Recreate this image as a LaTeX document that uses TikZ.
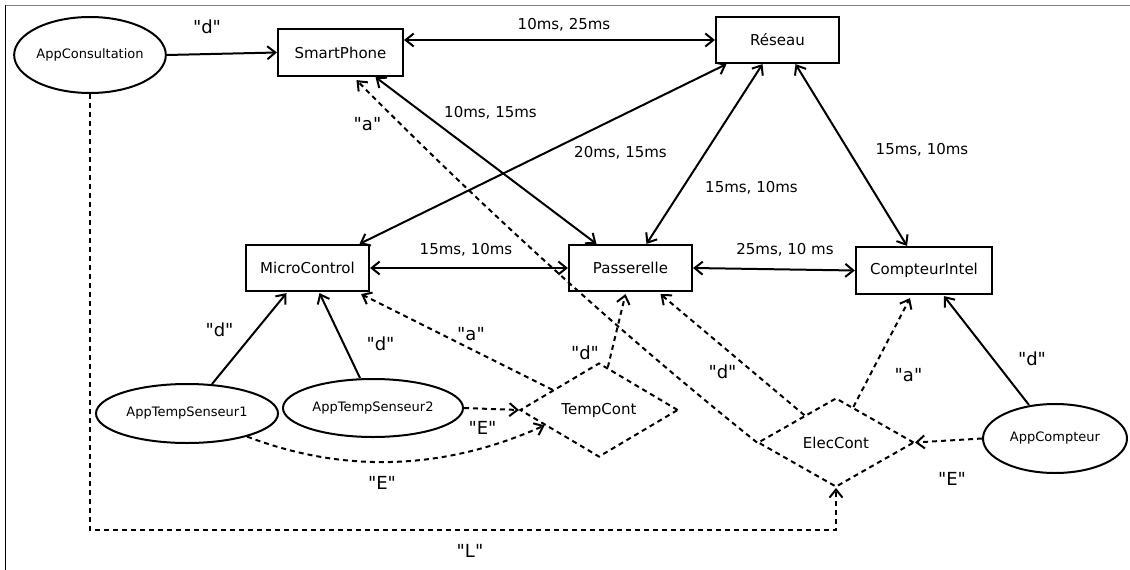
\documentclass[tikz,border=0pt]{standalone}
\usepackage{fontspec}
\setmainfont{DejaVu Sans}[Ligatures=TeXOff]
\usetikzlibrary{shapes.geometric,arrows.meta,calc}
\tikzset{
  boxnode/.style={draw, line width=2.2pt, inner sep=0pt, font=\fontsize{15}{18}\selectfont},
  appnode/.style={draw, ellipse, line width=2pt, inner sep=0pt, font=\fontsize{13}{16}\selectfont},
  ctrlnode/.style={draw, diamond, line width=2pt, dash pattern=on 5pt off 4pt, inner sep=0pt, font=\fontsize{15}{18}\selectfont},
  tip/.tip={Straight Barb[length=8pt,width=13pt]},
  link/.style={line width=2pt, tip-tip},
  flow/.style={line width=2pt, -tip},
  dflow/.style={line width=2pt, dash pattern=on 5pt off 4pt, -tip},
  lbl/.style={anchor=base, inner sep=0pt, font=\fontsize{15}{18}\selectfont},
  qlbl/.style={anchor=base, inner sep=0pt, font=\fontsize{18}{21}\selectfont},
}
\begin{document}
\begin{tikzpicture}[x=1pt,y=-1pt]
\useasboundingbox (0,0) rectangle (1130,570);
% frame
\draw[gray, line width=1.5pt] (5,5.5) -- (1130,5.5);
\draw[line width=1pt] (5.5,5) -- (5.5,570);

% nodes
\node[appnode, minimum width=150pt, minimum height=76pt] (appc) at (90,55) {AppConsultation};
\node[boxnode, minimum width=125pt, minimum height=47pt] (sp) at (340.5,52.5) {SmartPhone};
\node[boxnode, minimum width=123pt, minimum height=46pt] (res) at (777.5,40) {Réseau};
\node[boxnode, minimum width=136pt, minimum height=47pt] (ci) at (924,270.5) {CompteurIntel};
\node[boxnode, minimum width=123pt, minimum height=46pt] (mc) at (307.5,268) {MicroControl};
\node[boxnode, minimum width=123pt, minimum height=46pt] (pa) at (630.5,268) {Passerelle};
\node[appnode, minimum width=182pt, minimum height=59pt] (ats1) at (187,413.5) {AppTempSenseur1};
\node[appnode, minimum width=180pt, minimum height=58pt] (ats2) at (373,408) {AppTempSenseur2};
\node[ctrlnode, minimum width=158pt, minimum height=94pt] (tc) at (599,410) {TempCont};
\node[ctrlnode, minimum width=156pt, minimum height=89pt] (ec) at (836,442.5) {ElecCont};
\node[appnode, minimum width=144pt, minimum height=69pt] (acpt) at (1055,438.5) {AppCompteur};

% solid links
\draw[flow] (appc.east) -- (sp.west);
\draw[link] (sp.east |- res.west) -- (res.west);
\draw[link] ($(sp.south)+(35,0)$) -- ($(pa.north)+(-34,0)$);
\draw[link] ($(res.south)+(-51,0)$) -- ($(mc.north)+(52,0)$);
\draw[link] ($(res.south)+(-15,0)$) -- ($(pa.north)+(16,0)$);
\draw[link] ($(res.south)+(18,0)$) -- ($(ci.north)+(-17,0)$);
\draw[link] (mc.east) -- (pa.west);
\draw[link] (pa.east) -- (ci.west);
\draw[flow] ($(ats1.north)+(25,1)$) -- ($(mc.south)+(-21,1)$);
\draw[flow] ($(ats2.north)+(-13,0)$) -- ($(mc.south)+(12,1)$);
\draw[flow] ($(acpt.north)+(-26,2)$) -- ($(ci.south)+(20,1)$);

% dashed flows
\draw[dflow] ($(tc.west)!0.42!(tc.north)$) -- ($(mc.south east)+(-9,2)$);
\draw[dflow] ($(tc.north)!0.11!(tc.east)$) -- ($(pa.south)+(-5,2)$);
\draw[dflow] (ats2.east) -- (tc.west);
\draw[dflow] (ats1.-21) .. controls (345,474) and (445,470) .. ($(tc.west)!0.32!(tc.south)$);
\draw[dflow] (ec.west) .. controls (624.7,336.7) and (490.8,215.7) .. ($(sp.south)+(16,3)$);
\draw[dflow] ($(ec.west)!0.6!(ec.north)$) -- ($(pa.south)+(30,2)$);
\draw[dflow] ($(ec.north)!0.22!(ec.east)$) -- ($(ci.south)+(-14,3)$);
\draw[dflow] (acpt.west) -- (ec.east);
\coordinate (lturn) at (90,530);
\draw[dflow] (appc.south) -- (lturn) -| (ec.south);

% labels
\node[qlbl] (l1) at (207,33) {"d"};
\node[lbl] (l2) at (564,29) {10ms, 25ms};
\node[lbl] (l3) at (490.5,117) {10ms, 15ms};
\node[lbl] (l4) at (620.5,157) {20ms, 15ms};
\node[lbl] (l5) at (751.5,192) {15ms, 10ms};
\node[lbl] (l6) at (922,154) {15ms, 10ms};
\node[lbl] (l7) at (466,254) {15ms, 10ms};
\node[lbl] (l8) at (785,254) {25ms, 10 ms};
\node[qlbl] (l9) at (367.5,130) {"a"};
\node[qlbl] (l10) at (219.5,336) {"d"};
\node[qlbl] (l11) at (380.5,350) {"d"};
\node[qlbl] (l12) at (471,340) {"a"};
\node[qlbl] (l13) at (585,359) {"d"};
\node[qlbl] (l14) at (482.5,434) {"E"};
\node[qlbl] (l15) at (382,489) {"E"};
\node[qlbl] (l16) at (722.5,378) {"d"};
\node[qlbl] (l17) at (908.5,381) {"a"};
\node[qlbl] (l18) at (1032,365) {"d"};
\node[qlbl] (l19) at (952,485) {"E"};
\node[qlbl] (l20) at (470,557) {"L"};
\end{tikzpicture}
\end{document}
